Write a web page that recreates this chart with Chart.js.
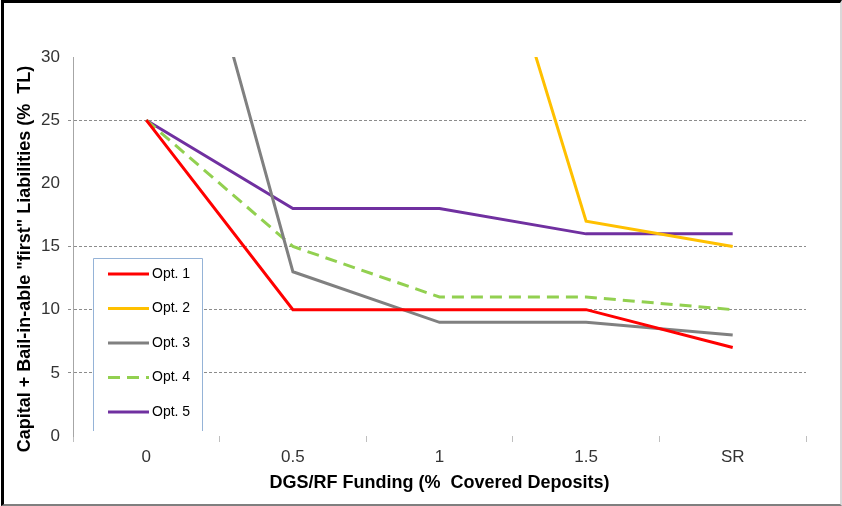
<!DOCTYPE html>
<html><head><meta charset="utf-8">
<script src="https://cdn.jsdelivr.net/npm/chart.js@4.4.1/dist/chart.umd.min.js"></script>
<style>
html,body{margin:0;padding:0;background:#fff;}
#wrap{position:relative;width:842px;height:506px;overflow:hidden;}
#frame{position:absolute;left:1px;top:0;width:841px;height:506px;box-sizing:border-box;border-top:3px solid #000;border-left:3px solid #000;border-right:2px solid #d9d9d9;border-bottom:2px solid #7f7f7f;pointer-events:none;}
canvas{position:absolute;left:0;top:0;}
</style></head><body>
<div id="wrap"><canvas id="c" width="842" height="506"></canvas><div id="frame"></div></div>
<script>
const categories = ['0', '0.5', '1', '1.5', 'SR'];
const seriesNames = ['Opt. 1', 'Opt. 2', 'Opt. 3', 'Opt. 4', 'Opt. 5'];
const opt1 = [25, 10, 10, 10, 7];
const opt2 = [null, null, 55, 17, 15];
const opt3 = [55, 13, 9, 9, 8];
const opt4 = [25, 15, 11, 11, 10];
const opt5 = [25, 18, 18, 16, 16];
const yMin = 0, yMax = 30, yStep = 5;
const gridValues = [5, 10, 15, 25];
const xTitle = 'DGS/RF Funding (%  Covered Deposits)';
const yTitle = 'Capital + Bail-in-able "first" Liabilities (%  TL)';

const FONT = '"Liberation Sans", Arial, sans-serif';

const boxLegend = {
  id: 'boxLegend',
  afterDatasetsDraw(chart) {
    const ctx = chart.ctx;
    const x0 = 93.5, x1 = 202.5, y0 = 258.5, y1 = 431;
    ctx.save();
    ctx.fillStyle = '#fff';
    ctx.fillRect(x0, y0, x1 - x0, y1 - y0);
    ctx.strokeStyle = '#95b3d7';
    ctx.lineWidth = 1;
    ctx.beginPath();
    ctx.moveTo(x0, y1); ctx.lineTo(x0, y0); ctx.lineTo(x1, y0); ctx.lineTo(x1, y1);
    ctx.stroke();
    chart.data.datasets.forEach((ds, i) => {
      const y = 274 + i * 34.5;
      ctx.strokeStyle = ds.borderColor;
      ctx.lineWidth = 3;
      ctx.setLineDash(ds.borderDash || []);
      ctx.beginPath(); ctx.moveTo(108, y); ctx.lineTo(149, y); ctx.stroke();
      ctx.setLineDash([]);
      ctx.fillStyle = '#000';
      ctx.font = '14px ' + FONT;
      ctx.textBaseline = 'middle';
      ctx.textAlign = 'left';
      ctx.fillText(ds.label, 152, y);
    });
    ctx.restore();
  }
};

const gridColor = (c) => gridValues.includes(c.tick && c.tick.value) ? '#8c8c8c' : 'rgba(0,0,0,0)';

new Chart(document.getElementById('c'), {
  type: 'line',
  data: {
    labels: categories,
    datasets: [
      { label: seriesNames[0], data: opt1, borderColor: '#ff0000' },
      { label: seriesNames[1], data: opt2, borderColor: '#ffc000' },
      { label: seriesNames[2], data: opt3, borderColor: '#808080' },
      { label: seriesNames[3], data: opt4, borderColor: '#92d050', borderDash: [12, 7] },
      { label: seriesNames[4], data: opt5, borderColor: '#7030a0' }
    ]
  },
  options: {
    responsive: false,
    animation: false,
    devicePixelRatio: 1,
    layout: { padding: { left: 0, top: 57, right: 36, bottom: 0 } },
    elements: {
      line: { borderWidth: 3, tension: 0, fill: false },
      point: { radius: 0, hoverRadius: 0 }
    },
    plugins: { legend: { display: false }, tooltip: { enabled: false } },
    scales: {
      x: {
        type: 'category',
        offset: true,
        grid: { display: true, offset: true, drawOnChartArea: false, drawTicks: true, tickLength: 6, color: '#bfbfbf', tickColor: '#bfbfbf' },
        border: { display: false },
        ticks: { color: '#333', font: { family: FONT, size: 17 }, padding: 5, maxRotation: 0 },
        title: { display: true, text: xTitle, color: '#000', font: { family: FONT, size: 18, weight: 'bold' }, padding: { top: 4, bottom: 12 } },
        afterFit(s) { s.height = 70; }
      },
      y: {
        min: yMin, max: yMax,
        ticks: { stepSize: yStep, color: '#333', font: { family: FONT, size: 17 }, padding: 8 },
        grid: { color: gridColor, tickColor: gridColor, tickLength: 5, lineWidth: 1, tickBorderDash: [3, 2] },
        border: { display: true, color: '#a6a6a6', width: 1, dash: [3, 2] },
        title: { display: true, text: yTitle + '     ', color: '#000', font: { family: FONT, size: 18, weight: 'bold' }, padding: { top: 14, bottom: 4 } },
        afterFit(s) { s.width = 73; }
      }
    }
  },
  plugins: [boxLegend]
});
</script>
</body></html>
